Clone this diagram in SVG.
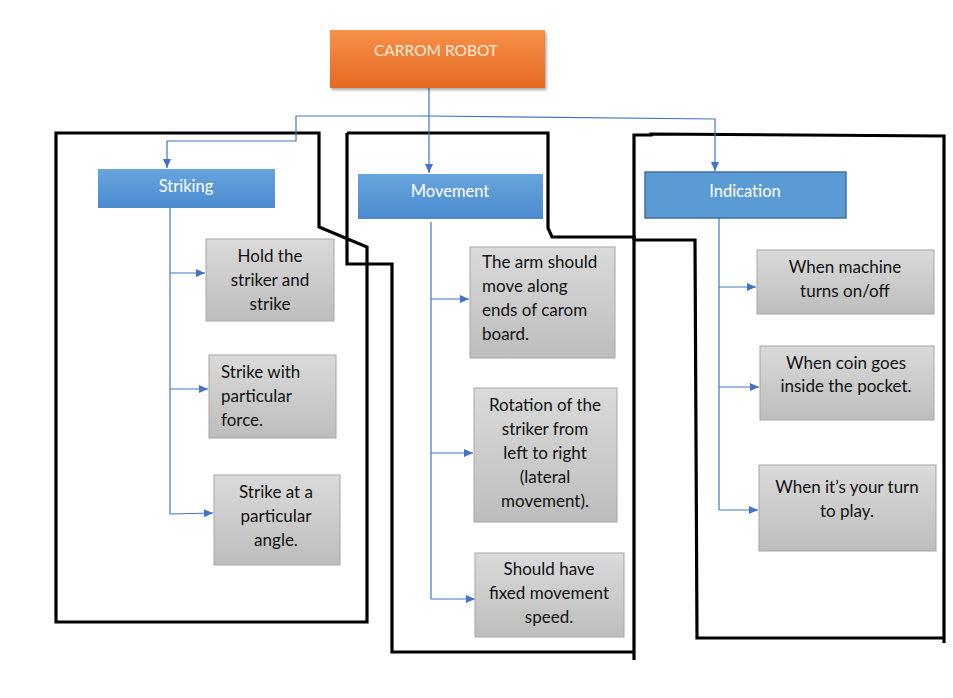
<svg xmlns="http://www.w3.org/2000/svg" width="953" height="698" viewBox="0 0 953 698">
<defs>
<style>
.txt{font-family:Lato,"Liberation Sans",sans-serif;font-size:17px;fill:#111}
.hdr{font-family:Lato,"Liberation Sans",sans-serif;font-size:16.5px;fill:#fff;text-anchor:middle}
.mid{text-anchor:middle}
.gray{fill:url(#gGray);stroke:#a6a6a6;stroke-width:1}
.blue{fill:url(#gBlue)}
.conn{fill:none;stroke:#4472c4;stroke-width:1.2}
.frame{fill:none;stroke:#000;stroke-width:3.2;stroke-linejoin:miter}
</style>
<linearGradient id="gGray" x1="0" y1="0" x2="0" y2="1"><stop offset="0" stop-color="#dadada"/><stop offset="1" stop-color="#bdbdbd"/></linearGradient>
<linearGradient id="gBlue" x1="0" y1="0" x2="0" y2="1"><stop offset="0" stop-color="#68a4dc"/><stop offset="1" stop-color="#4a8bd0"/></linearGradient>
<linearGradient id="gOrange" x1="0" y1="0" x2="0" y2="1"><stop offset="0" stop-color="#f7914a"/><stop offset="1" stop-color="#e4691f"/></linearGradient>
<filter id="sh" x="-10%" y="-10%" width="130%" height="140%"><feDropShadow dx="1.5" dy="2" stdDeviation="1.5" flood-color="#000" flood-opacity="0.35"/></filter>
<marker id="ar" markerUnits="userSpaceOnUse" markerWidth="10" markerHeight="9" refX="9" refY="4" orient="auto"><path d="M0,0 L9,4 L0,8 z" fill="#4472c4"/></marker>
</defs>
<rect width="953" height="698" fill="#fff"/>

<g id="frames">
<path class="frame" d="M56,133 H319 V227 L367,247 V622 H56 Z"/>
<path class="frame" d="M347,133 H548 V228 L552,237 H634 V660"/>
<path class="frame" d="M347,133 V264 H392 V652 H634"/>
<path class="frame" d="M634,240 V135 H651 V134 L944,136 V643"/>
<path class="frame" d="M634,240 H695 L697,638 H944"/>
</g>

<g id="connectors">
<path class="conn" d="M429,88 V116"/>
<path class="conn" d="M429,116 H296 V141 H167 V168" marker-end="url(#ar)"/>
<path class="conn" d="M429,116 V173" marker-end="url(#ar)"/>
<path class="conn" d="M429,116 L715,119 V171" marker-end="url(#ar)"/>
<path class="conn" d="M170,208 V514"/>
<path class="conn" d="M170,273 H205" marker-end="url(#ar)"/>
<path class="conn" d="M170,389 H208" marker-end="url(#ar)"/>
<path class="conn" d="M170,514 L213,513" marker-end="url(#ar)"/>
<path class="conn" d="M431,222 V599"/>
<path class="conn" d="M431,299 H469" marker-end="url(#ar)"/>
<path class="conn" d="M431,453 H473" marker-end="url(#ar)"/>
<path class="conn" d="M431,599 H475" marker-end="url(#ar)"/>
<path class="conn" d="M719,218 V510"/>
<path class="conn" d="M719,287 H756" marker-end="url(#ar)"/>
<path class="conn" d="M719,387 H759" marker-end="url(#ar)"/>
<path class="conn" d="M719,510 H758" marker-end="url(#ar)"/>
</g>

<g id="root">
<rect x="330" y="30" width="215" height="58" fill="url(#gOrange)" filter="url(#sh)"/>
<text class="hdr" x="436" y="56" style="fill:#fdebd8;font-size:15.5px">CARROM ROBOT</text>
</g>

<g id="striking">
<rect class="blue" x="98" y="169" width="177" height="39"/>
<text class="hdr" x="186" y="192">Striking</text>
</g>
<g id="movement">
<rect class="blue" x="358" y="174" width="185" height="45"/>
<text class="hdr" x="450" y="197">Movement</text>
</g>
<g id="indication">
<rect x="645" y="172" width="201" height="46" fill="#5b9bd5" stroke="#41719c" stroke-width="1.5"/>
<text class="hdr" x="745" y="197">Indication</text>
</g>

<g id="hold">
<rect class="gray" x="206" y="239" width="128" height="82"/>
<text class="txt mid" x="270" y="262">Hold the</text>
<text class="txt mid" x="270" y="286">striker and</text>
<text class="txt mid" x="270" y="310">strike</text>
</g>
<g id="force">
<rect class="gray" x="209" y="355" width="127" height="83"/>
<text class="txt" x="221" y="378">Strike with</text>
<text class="txt" x="221" y="402">particular</text>
<text class="txt" x="221" y="426">force.</text>
</g>
<g id="angle">
<rect class="gray" x="214" y="475" width="126" height="90"/>
<text class="txt mid" x="276" y="498">Strike at a</text>
<text class="txt mid" x="276" y="522">particular</text>
<text class="txt mid" x="276" y="546">angle.</text>
</g>

<g id="arm">
<rect class="gray" x="470" y="247" width="145" height="111"/>
<text class="txt" x="482" y="268">The arm should</text>
<text class="txt" x="482" y="292">move along</text>
<text class="txt" x="482" y="316">ends of carom</text>
<text class="txt" x="482" y="340">board.</text>
</g>
<g id="rotation">
<rect class="gray" x="474" y="388" width="143" height="134"/>
<text class="txt mid" x="545" y="411">Rotation of the</text>
<text class="txt mid" x="545" y="435">striker from</text>
<text class="txt mid" x="545" y="459">left to right</text>
<text class="txt mid" x="545" y="483">(lateral</text>
<text class="txt mid" x="545" y="507">movement).</text>
</g>
<g id="speed">
<rect class="gray" x="475" y="553" width="149" height="84"/>
<text class="txt mid" x="549" y="575">Should have</text>
<text class="txt mid" x="549" y="599">fixed movement</text>
<text class="txt mid" x="549" y="623">speed.</text>
</g>

<g id="onoff">
<rect class="gray" x="757" y="250" width="177" height="64"/>
<text class="txt mid" x="845" y="273">When machine</text>
<text class="txt mid" x="845" y="297">turns on/off</text>
</g>
<g id="coin">
<rect class="gray" x="760" y="346" width="174" height="74"/>
<text class="txt mid" x="846" y="369">When coin goes</text>
<text class="txt mid" x="846" y="392">inside the pocket.</text>
</g>
<g id="turn">
<rect class="gray" x="759" y="465" width="177" height="86"/>
<text class="txt mid" x="847" y="493">When it’s your turn</text>
<text class="txt mid" x="847" y="517">to play.</text>
</g>
</svg>
